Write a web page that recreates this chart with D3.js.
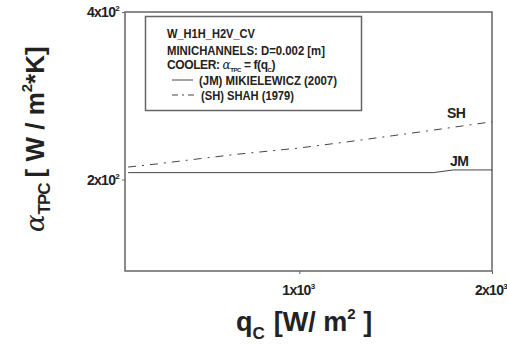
<!DOCTYPE html>
<html>
<head>
<meta charset="utf-8">
<script src="https://cdn.jsdelivr.net/npm/d3@7"></script>
<style>
body { margin: 0; background: #fff; }
svg { display: block; }
text { font-family: Arial, "Liberation Sans", sans-serif; fill: #222; }
</style>
</head>
<body>
<script>
var w = 507;
var h = 345;

// data
var shQ = [540, 600, 700, 800, 900, 1000, 1200, 1400, 1600, 1800, 2000];
var shAlpha = [210.6, 213.4, 218.1, 222.1, 225.1, 227.9, 234.1, 239.8, 244.9, 249.7, 254.0];
var jmQ = [540, 1620, 1740, 2000];
var jmAlpha = [205.8, 205.8, 208.1, 208.1];
var xTicks = [1000, 2000];
var xTickExp = ["3", "3"];
var yTicks = [200, 400];
var yTickExp = ["2", "2"];
var legendLines = ["W_H1H_H2V_CV", "MINICHANNELS:  D=0.002 [m]"];

var pLeft = 125, pRight = 492, pTop = 12, pBottom = 271;

var x = d3.scaleLog().domain([534, 2000]).range([pLeft, pRight]);
var y = d3.scaleLog().domain([137, 400]).range([pBottom, pTop]);

var svg = d3.select("body").append("svg")
    .attr("width", w)
    .attr("height", h);

// frame
svg.append("rect")
   .attr("x", pLeft).attr("y", pTop)
   .attr("width", pRight - pLeft).attr("height", pBottom - pTop)
   .attr("fill", "none").attr("stroke", "#666").attr("stroke-width", 1.5);

// axes (ticks only, labels drawn below)
svg.append("g")
   .attr("transform", "translate(0," + pBottom + ")")
   .call(d3.axisBottom(x).tickValues(xTicks).tickFormat("").tickSize(3).tickSizeOuter(0));
svg.append("g")
   .attr("transform", "translate(" + pLeft + ",0)")
   .call(d3.axisLeft(y).tickValues(yTicks).tickFormat("").tickSize(3).tickSizeOuter(0));
svg.selectAll(".domain").remove();
svg.selectAll(".tick line").attr("stroke", "#666");

// tick labels  "1x10^3"
function mant(v) { return Math.round(v / Math.pow(10, Math.floor(Math.log10(v)))); }

var xl = svg.selectAll("text.xl")
   .data(xTicks)
   .enter().append("text")
   .attr("class", "xl")
   .attr("x", function(d) { return x(d) - 1; })
   .attr("y", 295)
   .attr("text-anchor", "middle")
   .attr("font-size", "14px")
   .attr("font-weight", "bold")
   .attr("letter-spacing", "-0.7");
xl.append("tspan").text(function(d) { return mant(d) + "x10"; });
xl.append("tspan").attr("font-size", "8px").attr("dy", -6).text(function(d, i) { return xTickExp[i]; });

var yl = svg.selectAll("text.yl")
   .data(yTicks)
   .enter().append("text")
   .attr("class", "yl")
   .attr("x", 119)
   .attr("y", function(d) { return y(d) + 5; })
   .attr("text-anchor", "end")
   .attr("font-size", "14px")
   .attr("font-weight", "bold")
   .attr("letter-spacing", "-0.7");
yl.append("tspan").text(function(d) { return mant(d) + "x10"; });
yl.append("tspan").attr("font-size", "8px").attr("dy", -6).text(function(d, i) { return yTickExp[i]; });

// lines
var line = d3.line()
   .x(function(d) { return x(d[0]); })
   .y(function(d) { return y(d[1]); });

svg.append("path")
   .datum(jmQ.map(function(q, i) { return [q, jmAlpha[i]]; }))
   .attr("d", line)
   .attr("fill", "none").attr("stroke", "#444").attr("stroke-width", 1);

svg.append("path")
   .datum(shQ.map(function(q, i) { return [q, shAlpha[i]]; }))
   .attr("d", line)
   .attr("fill", "none").attr("stroke", "#444").attr("stroke-width", 1)
   .attr("stroke-dasharray", "8,6,2,6");

// curve labels
svg.append("text").attr("x", 447).attr("y", 118)
   .attr("font-size", "14px").attr("font-weight", "bold").attr("letter-spacing", "-0.5").text("SH");
svg.append("text").attr("x", 450).attr("y", 166)
   .attr("font-size", "14px").attr("font-weight", "bold").attr("letter-spacing", "-0.5").text("JM");

// legend box
svg.append("rect")
   .attr("x", 145.5).attr("y", 16.5).attr("width", 216).attr("height", 94)
   .attr("fill", "#fff").attr("stroke", "#666").attr("stroke-width", 1.5);

var lg = svg.append("g").attr("font-weight", "bold").attr("font-size", "12px");
lg.append("text").attr("x", 167).attr("y", 38).attr("textLength", 88)
  .attr("lengthAdjust", "spacingAndGlyphs").text(legendLines[0]);
lg.append("text").attr("x", 167).attr("y", 55).attr("textLength", 158)
  .attr("lengthAdjust", "spacingAndGlyphs").text(legendLines[1]);

var l3 = lg.append("text").attr("x", 167).attr("y", 69).attr("letter-spacing", "-0.4");
l3.append("tspan").text("COOLER:    ");
l3.append("tspan").attr("font-weight", "normal").attr("font-family", "DejaVu Serif, serif").attr("font-style", "italic").text("α");
l3.append("tspan").attr("font-size", "6px").attr("dy", 3).text("TPC");
l3.append("tspan").attr("dy", -3).text("  = f(q");
l3.append("tspan").attr("font-size", "6px").attr("dy", 3).text("C");
l3.append("tspan").attr("dy", -3).text(")");

lg.append("line").attr("x1", 172).attr("x2", 193).attr("y1", 80).attr("y2", 80)
  .attr("stroke", "#444").attr("stroke-width", 1);
lg.append("text").attr("x", 199).attr("y", 85).attr("textLength", 138)
  .attr("lengthAdjust", "spacingAndGlyphs").text("(JM) MIKIELEWICZ  (2007)");

lg.append("line").attr("x1", 172).attr("x2", 196).attr("y1", 95).attr("y2", 95)
  .attr("stroke", "#444").attr("stroke-width", 1).attr("stroke-dasharray", "6,4,2,4");
lg.append("text").attr("x", 201).attr("y", 100).attr("textLength", 93)
  .attr("lengthAdjust", "spacingAndGlyphs").text("(SH) SHAH (1979)");

// x title
var xt = svg.append("text").attr("x", 236).attr("y", 331)
   .attr("font-size", "27px").attr("font-weight", "bold");
xt.append("tspan").text("q");
xt.append("tspan").attr("font-size", "17px").attr("dy", 8).text("C");
xt.append("tspan").attr("dy", -8).attr("dx", 9).text("[W/ m");
xt.append("tspan").attr("font-size", "15px").attr("dy", -12).text("2");
xt.append("tspan").attr("dy", 12).text(" ]");

// y title
var yt = svg.append("text")
   .attr("transform", "translate(44,232) rotate(-90)")
   .attr("font-size", "26px").attr("font-weight", "bold");
yt.append("tspan").attr("font-weight", "normal").attr("font-family", "DejaVu Serif, serif").attr("font-style", "italic").text("α");
yt.append("tspan").attr("font-size", "17px").attr("dy", 6).attr("letter-spacing", "-1").text("TPC");
yt.append("tspan").attr("dy", -6).attr("dx", 6).text("[ W / m");
yt.append("tspan").attr("font-size", "15px").attr("dy", -12).text("2");
yt.append("tspan").attr("dy", 12).text("*K]");
</script>
</body>
</html>
